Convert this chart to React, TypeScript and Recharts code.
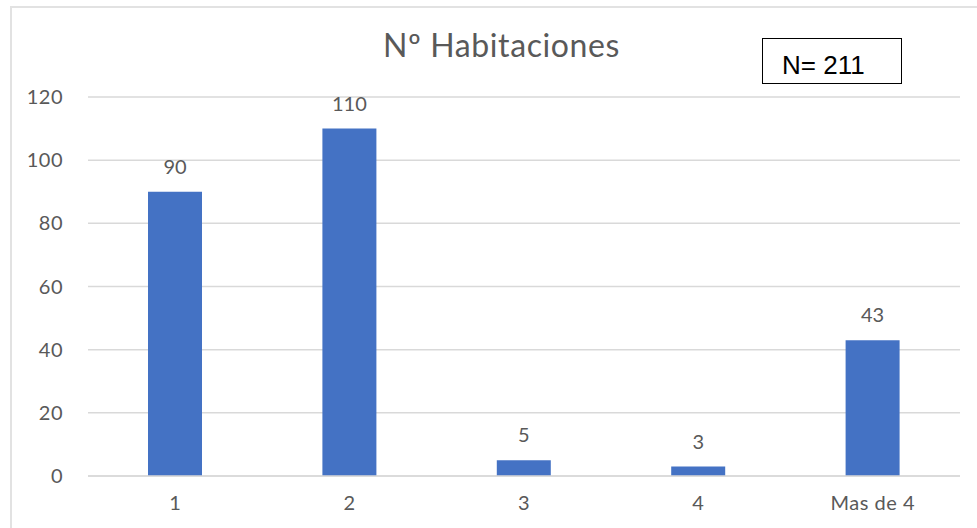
import { BarChart, Bar, XAxis, YAxis, CartesianGrid, LabelList } from 'recharts'

const categories = ['1', '2', '3', '4', 'Mas de 4']
const counts = [90, 110, 5, 3, 43]
const yTicks = [0, 20, 40, 60, 80, 100, 120]
const title = 'Nº Habitaciones'
const sampleLabel = 'N= 211'

const BLUE = '#4472C4'
const GRAY_TEXT = '#595959'
const GRID = '#d9d9d9'
const FONT = 'Lato, "Open Sans", sans-serif'

const data = categories.map((name, i) => ({ name, value: counts[i] }))

export default function App() {
  return (
    <div
      style={{
        position: 'absolute',
        left: 0,
        top: 0,
        width: 977,
        height: 528,
        overflow: 'hidden',
        background: '#fff',
      }}
    >
      {/* chart frame, cut off on the right and bottom */}
      <div
        style={{
          position: 'absolute',
          left: 10,
          top: 6,
          width: 1100,
          height: 700,
          borderLeft: '2px solid #e2e2e2',
          borderTop: '2px solid #e2e2e2',
        }}
      />
      <div
        style={{
          position: 'absolute',
          left: 0,
          width: 1003,
          top: 26,
          textAlign: 'center',
          fontFamily: FONT,
          fontSize: 32,
          color: GRAY_TEXT,
          lineHeight: '38px',
          letterSpacing: 0.6,
        }}
      >
        {title}
      </div>
      <div style={{ position: 'absolute', left: 0, top: 0 }}>
        <BarChart
          width={977}
          height={528}
          data={data}
          margin={{ top: 97, right: 17, bottom: 0, left: 0 }}
        >
          <CartesianGrid vertical={false} stroke={GRID} strokeWidth={1.5} />
          <XAxis
            dataKey="name"
            height={52}
            axisLine={{ stroke: GRID, strokeWidth: 1.5 }}
            tickLine={false}
            tickMargin={14}
            tick={{ fill: GRAY_TEXT, fontSize: 20, fontFamily: FONT, letterSpacing: 0.5 }}
          />
          <YAxis
            width={88}
            domain={[0, 120]}
            ticks={yTicks}
            axisLine={false}
            tickLine={false}
            tickMargin={19}
            tick={{ fill: GRAY_TEXT, fontSize: 20, fontFamily: FONT, letterSpacing: 0.5 }}
          />
          <Bar dataKey="value" fill={BLUE} barSize={54} isAnimationActive={false}>
            <LabelList
              dataKey="value"
              position="top"
              offset={18}
              fill={GRAY_TEXT}
              fontSize={20}
              fontFamily={FONT}
            />
          </Bar>
        </BarChart>
      </div>
      <div
        style={{
          position: 'absolute',
          left: 762,
          top: 38,
          width: 140,
          height: 46,
          border: '1.5px solid #000',
          fontFamily: '"Liberation Sans", Arial, sans-serif',
          fontSize: 26,
          color: '#000',
          lineHeight: '44px',
          paddingLeft: 19,
          paddingTop: 4,
          boxSizing: 'border-box',
        }}
      >
        {sampleLabel}
      </div>
    </div>
  )
}
